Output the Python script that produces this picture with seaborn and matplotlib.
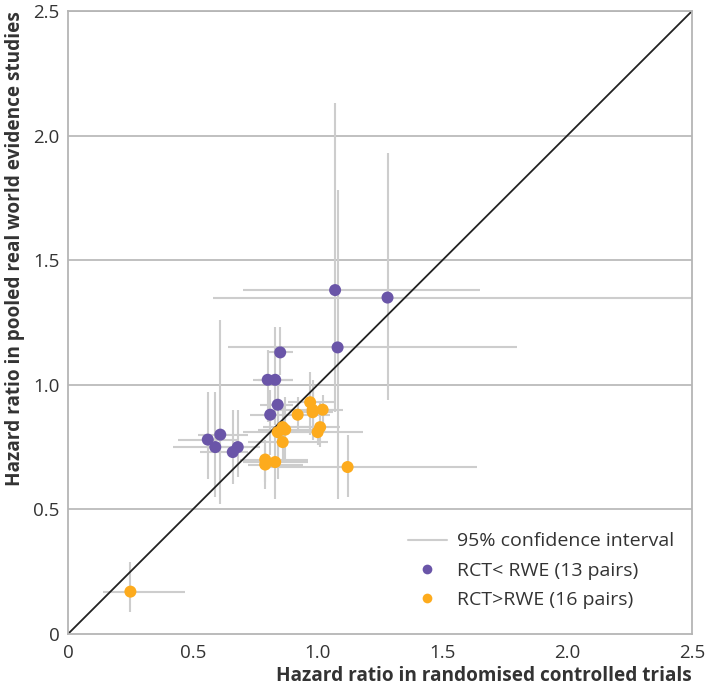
import matplotlib
matplotlib.use("Agg")
import matplotlib.pyplot as plt
import numpy as np
import pandas as pd
import seaborn as sns

# hazard ratios: point, then 95% CI on each axis
rct_hr = [1.07, 1.28, 1.08, 0.85, 0.80, 0.83, 0.84, 0.81, 0.61, 0.56, 0.59, 0.66, 0.68,
          0.97, 0.98, 0.98, 1.02, 0.92, 1.01, 1.00, 0.86, 0.87, 0.84, 0.86, 0.79, 0.79, 0.83, 1.12, 0.25]
rwe_hr = [1.38, 1.35, 1.15, 1.13, 1.02, 1.02, 0.92, 0.88, 0.80, 0.78, 0.75, 0.73, 0.75,
          0.93, 0.90, 0.89, 0.90, 0.88, 0.83, 0.81, 0.83, 0.82, 0.81, 0.77, 0.70, 0.68, 0.69, 0.67, 0.17]
rct_lo = [0.70, 0.58, 0.64, 0.80, 0.74, 0.76, 0.77, 0.73, 0.52, 0.44, 0.42, 0.53, 0.58,
          0.88, 0.85, 0.90, 0.95, 0.80, 0.88, 0.81, 0.78, 0.76, 0.70, 0.72, 0.69, 0.72, 0.70, 0.81, 0.14]
rct_hi = [1.65, 2.50, 1.80, 0.90, 0.90, 0.90, 0.90, 0.85, 0.72, 0.68, 0.72, 0.72, 0.77,
          1.07, 1.10, 1.06, 1.08, 1.05, 1.09, 1.18, 0.98, 1.00, 1.02, 1.04, 0.96, 0.94, 0.96, 1.64, 0.47]
rwe_lo = [0.89, 0.94, 0.54, 1.04, 0.85, 0.84, 0.70, 0.72, 0.52, 0.62, 0.55, 0.60, 0.63,
          0.80, 0.78, 0.80, 0.83, 0.81, 0.75, 0.76, 0.74, 0.70, 0.62, 0.70, 0.61, 0.58, 0.54, 0.55, 0.09]
rwe_hi = [2.13, 1.93, 1.78, 1.23, 1.14, 1.23, 1.02, 0.98, 1.26, 0.97, 0.97, 0.90, 0.90,
          1.05, 1.02, 0.98, 0.96, 0.95, 0.93, 0.85, 0.92, 0.95, 1.00, 0.85, 0.78, 0.76, 0.80, 0.80, 0.29]
group = ["RCT< RWE (13 pairs)"] * 13 + ["RCT>RWE (16 pairs)"] * 16

tick_values = [0, 0.5, 1.0, 1.5, 2.0, 2.5]
tick_labels = ["0", "0.5", "1.0", "1.5", "2.0", "2.5"]

df = pd.DataFrame({"rct": rct_hr, "rwe": rwe_hr, "rct_lo": rct_lo, "rct_hi": rct_hi,
                   "rwe_lo": rwe_lo, "rwe_hi": rwe_hi, "group": group})

sns.set_theme(style="white")
plt.rcParams["font.family"] = ["Open Sans", "DejaVu Sans"]

text_col = "#333333"
frame_col = "#b5b5b5"
ci_col = "#cdcdcd"
palette = {"RCT< RWE (13 pairs)": "#6a55a8", "RCT>RWE (16 pairs)": "#fdab1d"}

fig = plt.figure(figsize=(7.06, 6.91), dpi=100)
ax = fig.add_axes([0.0963, 0.0825, 0.884, 0.9016])

for y in tick_values[1:]:
    ax.axhline(y, color=frame_col, lw=1.2, zorder=0)

ax.errorbar(df["rct"], df["rwe"],
            xerr=[df["rct"] - df["rct_lo"], df["rct_hi"] - df["rct"]],
            yerr=[df["rwe"] - df["rwe_lo"], df["rwe_hi"] - df["rwe"]],
            fmt="none", ecolor=ci_col, elinewidth=1.5, capsize=0, zorder=1)

ax.axline((0, 0), slope=1, color="#222222", lw=1.3, zorder=2)

sns.scatterplot(data=df, x="rct", y="rwe", hue="group", palette=palette,
                s=75, edgecolor="none", linewidth=0, ax=ax, zorder=3, legend=False)

ax.set_xlim(0, 2.5)
ax.set_ylim(0, 2.5)
ax.set_xticks(tick_values)
ax.set_xticklabels(tick_labels)
ax.set_yticks(tick_values)
ax.set_yticklabels(tick_labels)
ax.tick_params(axis="x", direction="in", length=8, width=1.2, color=frame_col,
               labelsize=13.5, labelcolor=text_col, pad=7)
ax.tick_params(axis="y", length=0, labelsize=13.5, labelcolor=text_col, pad=6)
for side in ax.spines.values():
    side.set_color(frame_col)
    side.set_linewidth(1.3)

ax.set_xlabel("Hazard ratio in randomised controlled trials", loc="right",
              fontsize=13.7, fontweight="bold", color=text_col, labelpad=3)
ax.set_ylabel("Hazard ratio in pooled real world evidence studies", loc="top",
              fontsize=13.7, fontweight="bold", color=text_col, labelpad=6)

handles = [plt.Line2D([], [], color=ci_col, lw=1.5)]
handles += [plt.Line2D([], [], ls="none", marker="o", markersize=7,
                       markerfacecolor=c, markeredgecolor="none") for c in palette.values()]
ax.legend(handles, ["95% confidence interval"] + list(palette.keys()),
          loc="lower right", bbox_to_anchor=(1.0, 0.012), frameon=False,
          fontsize=14, labelcolor=text_col, handlelength=2.0, handletextpad=0.55,
          labelspacing=0.58)

fig.savefig("out.png", dpi=100)
